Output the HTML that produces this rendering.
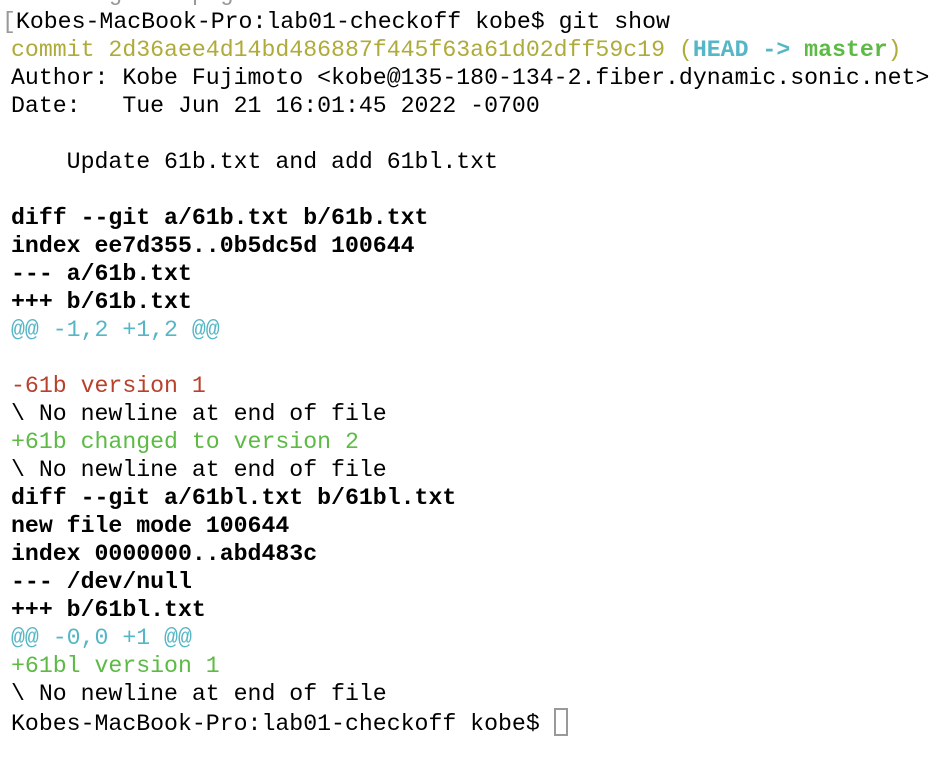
<!DOCTYPE html>
<html><head><meta charset="utf-8"><style>
html,body{margin:0;padding:0;background:#fff;width:950px;height:764px;overflow:hidden}
pre{position:absolute;left:11px;top:-20px;margin:0;font-family:"Liberation Mono","DejaVu Sans Mono",monospace;font-size:23.2px;line-height:28px;color:#000;white-space:pre}
.y{color:#afab3a}.c{color:#55b6c6}.r{color:#b8412c}.g{color:#5cba45}b{font-weight:bold}
.cur{display:inline-block;width:10px;height:24px;border:2px solid #999;vertical-align:-6px}
.gr{color:#999}
</style></head><body>
<pre><span class="gr">Checking out page in the terminal editor</span>
<span class="gr" style="margin-left:-9px">[</span>Kobes-MacBook-Pro:lab01-checkoff kobe$ git show
<span class="y">commit 2d36aee4d14bd486887f445f63a61d02dff59c19 (<b class="c">HEAD -&gt; </b><b class="g">master</b>)</span>
Author: Kobe Fujimoto &lt;kobe@135-180-134-2.fiber.dynamic.sonic.net&gt;
Date:   Tue Jun 21 16:01:45 2022 -0700

    Update 61b.txt and add 61bl.txt

<b>diff --git a/61b.txt b/61b.txt</b>
<b>index ee7d355..0b5dc5d 100644</b>
<b>--- a/61b.txt</b>
<b>+++ b/61b.txt</b>
<span class="c">@@ -1,2 +1,2 @@</span>

<span class="r">-61b version 1</span>
\ No newline at end of file
<span class="g">+61b changed to version 2</span>
\ No newline at end of file
<b>diff --git a/61bl.txt b/61bl.txt</b>
<b>new file mode 100644</b>
<b>index 0000000..abd483c</b>
<b>--- /dev/null</b>
<b>+++ b/61bl.txt</b>
<span class="c">@@ -0,0 +1 @@</span>
<span class="g">+61bl version 1</span>
\ No newline at end of file
Kobes-MacBook-Pro:lab01-checkoff kobe$ <span class="cur"></span></pre>
</body></html>
